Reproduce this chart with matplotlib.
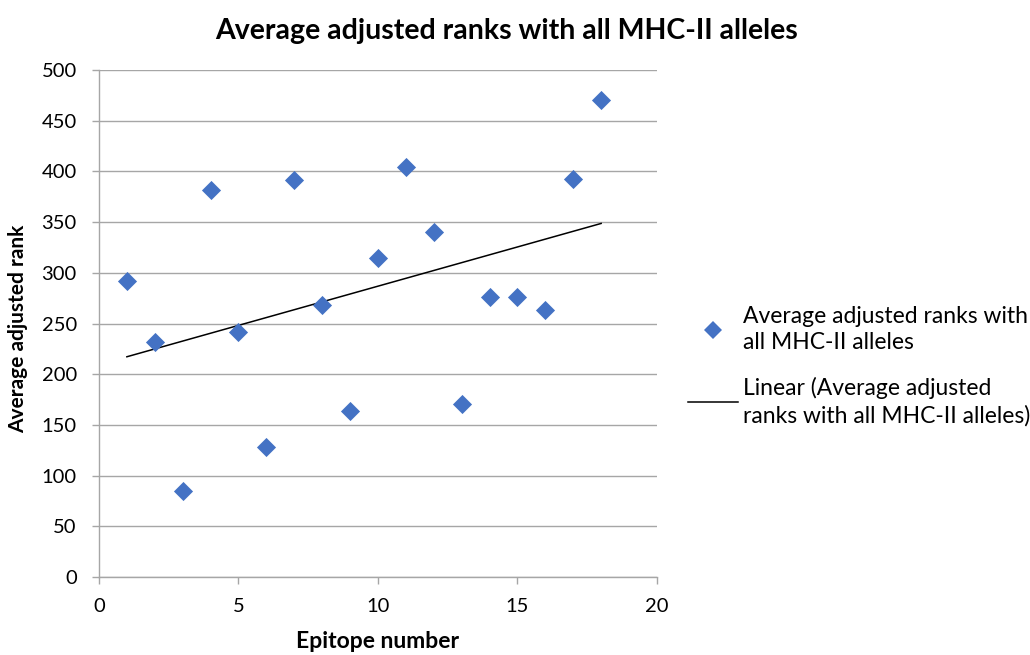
import numpy as np
import matplotlib
matplotlib.use("Agg")
import matplotlib.pyplot as plt
from matplotlib.lines import Line2D

epitope = [1, 2, 3, 4, 5, 6, 7, 8, 9, 10, 11, 12, 13, 14, 15, 16, 17, 18]
avg_rank = [292, 232, 85, 382, 242, 128, 392, 268, 164, 315, 404, 340, 171, 276, 276, 263, 393, 470]
x_ticks = [0, 5, 10, 15, 20]
y_ticks = [0, 50, 100, 150, 200, 250, 300, 350, 400, 450, 500]

plt.rcParams['font.family'] = ['Lato', 'DejaVu Sans']

fig = plt.figure(figsize=(10.3, 6.55), dpi=100)
ax = fig.add_axes([0.0961, 0.1191, 0.5417, 0.774])

blue = '#4472C4'
grid = '#A6A6A6'

ax.scatter(epitope, avg_rank, marker='D', s=95, color=blue, zorder=3, linewidths=0)
slope, intercept = np.polyfit(epitope, avg_rank, 1)
xs = np.array([min(epitope), max(epitope)])
ax.plot(xs, slope * xs + intercept, color='black', lw=1.1, zorder=2)

ax.set_xlim(0, 20)
ax.set_ylim(0, 500)
ax.set_xticks(x_ticks)
ax.set_yticks(y_ticks)
ax.yaxis.grid(True, color=grid, lw=1)
ax.set_axisbelow(True)
for s in ['top', 'right']:
    ax.spines[s].set_visible(False)
for s in ['left', 'bottom']:
    ax.spines[s].set_color(grid)
    ax.spines[s].set_linewidth(1)
ax.tick_params(axis='both', colors=grid, length=5, width=1, labelcolor='black', labelsize=14.5)
ax.tick_params(axis='y', pad=11)
ax.tick_params(axis='x', pad=10)

xl = ax.set_xlabel('Epitope number', fontsize=16.5, fontweight='bold')
xl.set_va('center')
ax.xaxis.set_label_coords(0.5, -0.128)
yl = ax.set_ylabel('Average adjusted rank', fontsize=15, fontweight='bold')
yl.set_va('center')
yl.set_ha('center')
ax.yaxis.set_label_coords(-0.145, 0.49)
fig.text(0.492, 0.953, 'Average adjusted ranks with all MHC-II alleles', ha='center', va='center',
         fontsize=20.5, fontweight='bold')

handles = [Line2D([], [], marker='D', color=blue, ls='none', markersize=9, markeredgewidth=0),
           Line2D([], [], color='black', lw=1.1)]
labels = ['Average adjusted ranks with\nall MHC-II alleles',
          'Linear (Average adjusted\nranks with all MHC-II alleles)']
leg = fig.legend(handles, labels, loc='center left', bbox_to_anchor=(0.668, 0.441), frameon=False,
                 fontsize=16.5, handlelength=2.2, handletextpad=0.2, labelspacing=1.05, borderaxespad=0,
                 borderpad=0)
for t in leg.get_texts():
    t.set_linespacing(1.3)

fig.savefig('out.png', dpi=100)
